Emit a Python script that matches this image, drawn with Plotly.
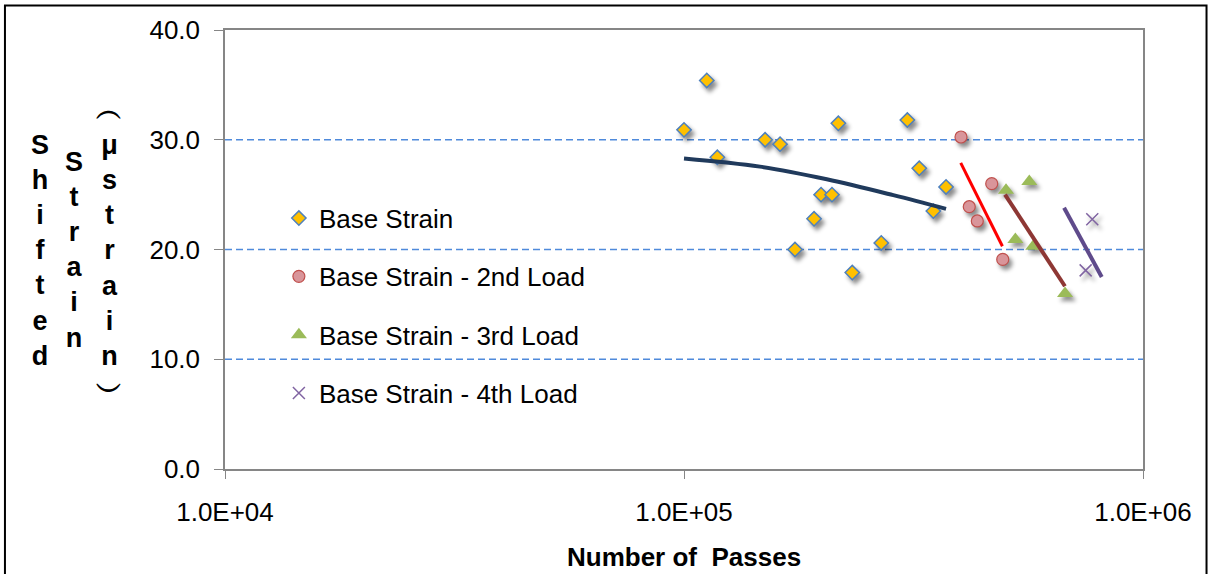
import plotly.graph_objects as go

# Measured strain values per loading stage
base_x = [1.00e5, 1.121e5, 1.182e5, 1.502e5, 1.619e5, 2.169e5, 3.066e5, 3.255e5,
          3.723e5, 3.493e5, 1.989e5, 2.101e5, 1.920e5, 1.745e5, 2.690e5, 2.326e5]
base_y = [30.9, 35.4, 28.4, 30.0, 29.6, 31.5, 31.8, 27.4,
          25.7, 23.5, 25.0, 25.0, 22.8, 20.0, 20.6, 17.9]

load2_x = [4.013e5, 4.682e5, 4.183e5, 4.355e5, 4.948e5]
load2_y = [30.25, 26.0, 23.9, 22.6, 19.1]

load3_x = [5.030e5, 5.653e5, 5.272e5, 5.768e5, 6.763e5]
load3_y = [25.4, 26.2, 20.9, 20.3, 16.0]

load4_x = [7.753e5, 7.500e5]
load4_y = [22.75, 18.1]

# Trend lines for each stage
trend1_x = [1.0e5, 1.464e5, 2.047e5, 2.858e5, 3.723e5]
trend1_y = [28.3, 27.55, 26.4, 24.95, 23.7]
trend2_x = [4.007e5, 4.94e5]
trend2_y = [27.9, 20.3]
trend3_x = [5.005e5, 6.76e5]
trend3_y = [25.0, 16.65]
trend4_x = [6.73e5, 8.13e5]
trend4_y = [23.8, 17.5]

x_ticks = [1e4, 1e5, 1e6]
x_tick_text = ["1.0E+04", "1.0E+05", "1.0E+06"]
y_ticks = [0, 10, 20, 30, 40]

FONT = "Liberation Sans, Arial, sans-serif"

fig = go.Figure()

fig.add_trace(go.Scatter(
    x=base_x, y=base_y, mode="markers", name="Base Strain", legendgroup="a",
    marker=dict(symbol="diamond", size=11, color="#FFC000",
                line=dict(color="#4F81BD", width=1.5))))
fig.add_trace(go.Scatter(
    x=load2_x, y=load2_y, mode="markers", name="Base Strain - 2nd Load", legendgroup="b",
    marker=dict(symbol="circle", size=12, color="#D9959A",
                line=dict(color="#C0504D", width=1.2))))
fig.add_trace(go.Scatter(
    x=load3_x, y=load3_y, mode="markers", name="Base Strain - 3rd Load", legendgroup="c",
    marker=dict(symbol="triangle-up", size=14, color="#9BBB59",
                line=dict(color="#9BBB59", width=0))))
fig.add_trace(go.Scatter(
    x=load4_x, y=load4_y, mode="markers", name="Base Strain - 4th Load", legendgroup="d",
    marker=dict(symbol="x-thin", size=12, color="#8064A2",
                line=dict(color="#8064A2", width=1.5))))

for tx, ty, col, w in [(trend1_x, trend1_y, "#203A5C", 4),
                       (trend2_x, trend2_y, "#FF0000", 3),
                       (trend3_x, trend3_y, "#8E3734", 4),
                       (trend4_x, trend4_y, "#5F4B8B", 4)]:
    fig.add_trace(go.Scatter(x=tx, y=ty, mode="lines", showlegend=False,
                             line=dict(color=col, width=w, shape="spline"),
                             hoverinfo="skip"))

axis_grey = "#868686"

fig.update_layout(template="none")

fig.update_layout(
    xaxis=dict(
        type="log", range=[4, 6], tickvals=x_ticks, ticktext=x_tick_text,
        showgrid=False, zeroline=False, showline=True, linecolor=axis_grey, linewidth=1.5,
        mirror=True, ticks="outside", ticklen=8, tickcolor=axis_grey, tickwidth=1,
        ticklabelstandoff=11,
        tickfont=dict(family=FONT, size=26, color="#000000")),
    yaxis=dict(
        range=[0, 40], tickvals=y_ticks, tickformat=".1f",
        showgrid=False,
        zeroline=False, showline=True, linecolor=axis_grey, linewidth=1.5, mirror=True,
        ticks="outside", ticklen=9, tickcolor=axis_grey, tickwidth=1,
        ticklabelstandoff=9,
        tickfont=dict(family=FONT, size=26, color="#000000")),
)

# Dashed blue major gridlines across the plot area (interior ticks only)
for gy in y_ticks[1:-1]:
    fig.add_shape(type="line", xref="paper", yref="y", x0=0, x1=1, y0=gy, y1=gy,
                  line=dict(color="#4F8ADB", width=1.4, dash="7px,4px"),
                  layer="below")

# Stacked vertical axis title
title_font = dict(family=FONT, size=27, color="#000000")
for text, xs in [("S<br>h<br>i<br>f<br>t<br>e<br>d", -185),
                 ("S<br>t<br>r<br>a<br>i<br>n", -151),
                 ("\ufe35<br>\u03bc<br>s<br>t<br>r<br>a<br>i<br>n<br>\ufe36", -116)]:
    fig.add_annotation(text="<b>" + text + "</b>", xref="paper", yref="paper",
                       x=0, y=0, xshift=xs, yshift=219, showarrow=False,
                       xanchor="center", yanchor="middle", align="center",
                       font=title_font)

fig.add_annotation(text="<b>Number of\u00a0\u00a0Passes</b>", xref="paper", yref="paper",
                   x=0.5, y=0, yshift=-88, showarrow=False,
                   xanchor="center", yanchor="middle",
                   font=dict(family=FONT, size=26, color="#000000"))

# Outer chart frame (bottom edge runs past the visible page)
fig.add_shape(type="rect", xref="paper", yref="paper",
              x0=-0.2397, x1=1.0692, y0=-0.26, y1=1.0558,
              line=dict(color="#000000", width=2), fillcolor="rgba(0,0,0,0)",
              layer="above")

fig.update_layout(
    width=1209, height=574,
    margin=dict(l=225, r=66, t=30, b=105),
    paper_bgcolor="#FFFFFF", plot_bgcolor="#FFFFFF",
    font=dict(family=FONT, color="#000000"),
    showlegend=True,
    legend=dict(x=0.0587, y=0.625, xanchor="left", yanchor="top",
                bgcolor="rgba(0,0,0,0)", borderwidth=0,
                traceorder="grouped", tracegroupgap=21.5, itemwidth=30,
                font=dict(family=FONT, size=26, color="#000000")),
)

shadow_js = (
    "var s=document.createElement('style');"
    "s.textContent='.scatterlayer .trace .points path{filter:drop-shadow(3px 4px 2px rgba(0,0,0,0.45));}';"
    "document.head.appendChild(s);"
)

fig.write_html("out.html", post_script=shadow_js)
